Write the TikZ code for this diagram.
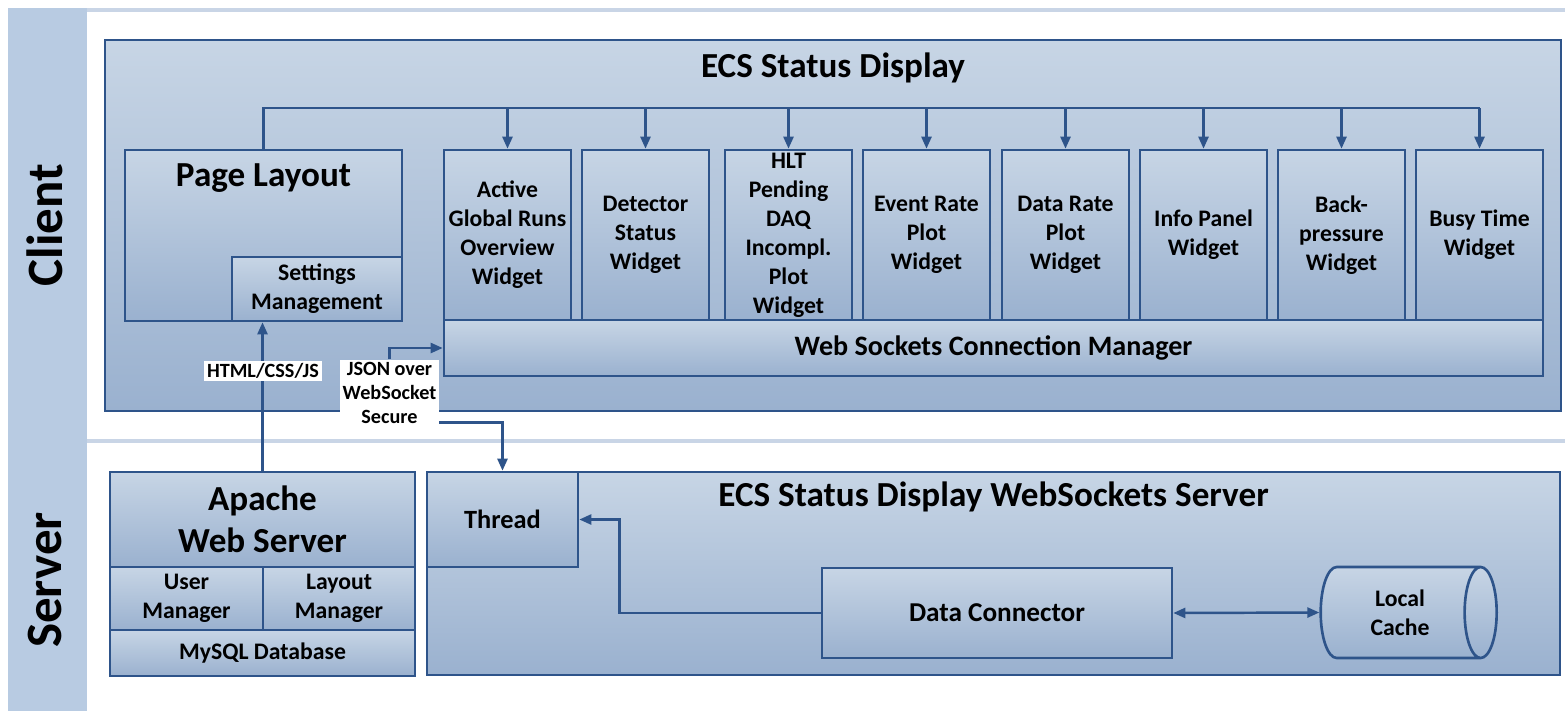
\documentclass[tikz,border=0pt]{standalone}
\usepackage{fontspec}
\setmainfont{Carlito}
\usetikzlibrary{arrows.meta,shapes.geometric}
\definecolor{edge}{HTML}{2E548A}
\definecolor{shtop}{HTML}{C7D5E5}
\definecolor{shbot}{HTML}{9AB1CF}
\definecolor{strip}{HTML}{B8CBE2}
\definecolor{rule}{HTML}{C9D5E6}
\tikzset{
  box/.style 2 args = {draw=edge, line width=1.5pt, top color=shtop, bottom color=shbot,
                minimum width=#1*0.02cm, minimum height=#2*0.02cm,
                inner sep=0pt, align=center},
  big/.style  = {font=\bfseries\fontsize{20}{24}\selectfont, align=center},
  wtxt/.style = {font=\bfseries\fontsize{13.5}{16.5}\selectfont},
  link/.style = {draw=edge, line width=1.4pt},
  arr/.style  = {link, -{Triangle[length=0.24cm,width=0.2cm]}},
  arrs/.style = {link, {Triangle[length=0.24cm,width=0.2cm]}-{Triangle[length=0.24cm,width=0.2cm]}},
  tag/.style  = {fill=white, inner sep=1.5pt, align=center,
                 font=\bfseries\fontsize{11.5}{13.7}\selectfont}
}

\begin{document}
\begin{tikzpicture}[x=0.02cm, y=-0.02cm]
	\useasboundingbox (0,0) rectangle (1565,711);

	% Side strip and rules
	\fill[strip] (8,8) rectangle (87,711);
	\draw[rule, line width=2pt] (87,10) -- (1565,10);
	\draw[rule, line width=2pt] (87,441) -- (1565,441);
	\node[rotate=90, font=\bfseries\fontsize{29}{34}\selectfont] (client) at (45,225) {Client};
	\node[rotate=90, font=\bfseries\fontsize{29}{34}\selectfont] (server) at (45,580) {Server};

	% Client side
	\node[box={1456}{371}] (disp) at (833,225.5) {};
	\node[big] (dispt) at (833,68) {ECS Status Display};
	\node[box={277}{171}] (page) at (263.5,235.5) {};
	\node[big] (paget) at (263.5,178) {Page Layout};
	\node[box={170}{64}, wtxt] (sett) at (317,289) {Settings\\Management};

	% Widgets
	\node[box={127}{170}, wtxt] (w1) at (507.5,235) {Active\\Global Runs\\Overview\\Widget};
	\node[box={127}{170}, wtxt] (w2) at (645.5,235) {Detector\\Status\\Widget};
	\node[box={127}{170}, wtxt] (w3) at (788.5,235) {HLT\\Pending\\DAQ\\Incompl.\\Plot\\Widget};
	\node[box={127}{170}, wtxt] (w4) at (926.5,235) {Event Rate\\Plot\\Widget};
	\node[box={127}{170}, wtxt] (w5) at (1065.5,235) {Data Rate\\Plot\\Widget};
	\node[box={127}{170}, wtxt] (w6) at (1203.5,235) {Info Panel\\Widget};
	\node[box={127}{170}, wtxt] (w7) at (1341.5,235) {Back-\\pressure\\Widget};
	\node[box={127}{170}, wtxt] (w8) at (1479.5,235) {Busy Time\\Widget};
	\node[box={1099}{56}, font=\bfseries\fontsize{16}{19}\selectfont] (wscm) at (993.5,348) {Web Sockets Connection Manager};

	% Bus from the page layout
	\coordinate (bus) at (263.5,108);
	\draw[link] (page.north) -- (bus) -- (bus -| w8.north);
	\draw[arr] (bus -| w1.north) -- (w1.north);
	\draw[arr] (bus -| w2.north) -- (w2.north);
	\draw[arr] (bus -| w3.north) -- (w3.north);
	\draw[arr] (bus -| w4.north) -- (w4.north);
	\draw[arr] (bus -| w5.north) -- (w5.north);
	\draw[arr] (bus -| w6.north) -- (w6.north);
	\draw[arr] (bus -| w7.north) -- (w7.north);
	\draw[arr] (bus -| w8.north) -- (w8.north);

	% Server side
	\node[box={305}{95}, big] (apache) at (262.5,519.5) {Apache\\Web Server};
	\node[box={153}{63}, wtxt] (userm) at (186.5,598.5) {User\\Manager};
	\node[box={152}{63}, wtxt] (layoutm) at (339,598.5) {Layout\\Manager};
	\node[box={305}{46}, wtxt] (mysql) at (262.5,653) {MySQL Database};

	\node[box={1133}{203}] (wss) at (993.5,573.5) {};
	\node[big] (wsst) at (993.5,497) {ECS Status Display WebSockets Server};
	\node[box={151}{95}, font=\bfseries\fontsize{15}{18}\selectfont] (thread) at (502.5,519.5) {Thread};
	\node[box={350}{90}, font=\bfseries\fontsize{15.5}{18}\selectfont] (dconn) at (997,613) {Data Connector};
	\node[cylinder, box={91}{176}, aspect=0.7, wtxt] (cache) at (1400,612.5) {Local\\Cache};

	% Connections
	\draw[arr] (apache.north) -- (apache.north |- sett.south);
	\node[tag] (htmll) at (263,371) {HTML/CSS/JS};
	\node[tag] (jsonl) at (389.5,393) {JSON over\\WebSocket\\Secure};
	\draw[arr] (jsonl.north) |- (wscm.west);
	\draw[arr] ([yshift=2.3pt]jsonl.south east) -| (thread.north);
	\draw[arr] (dconn.west) -- ++(-201,0) |- (thread.east);
	\draw[arrs] (dconn.east) -- (cache.west);

\end{tikzpicture}
\end{document}
